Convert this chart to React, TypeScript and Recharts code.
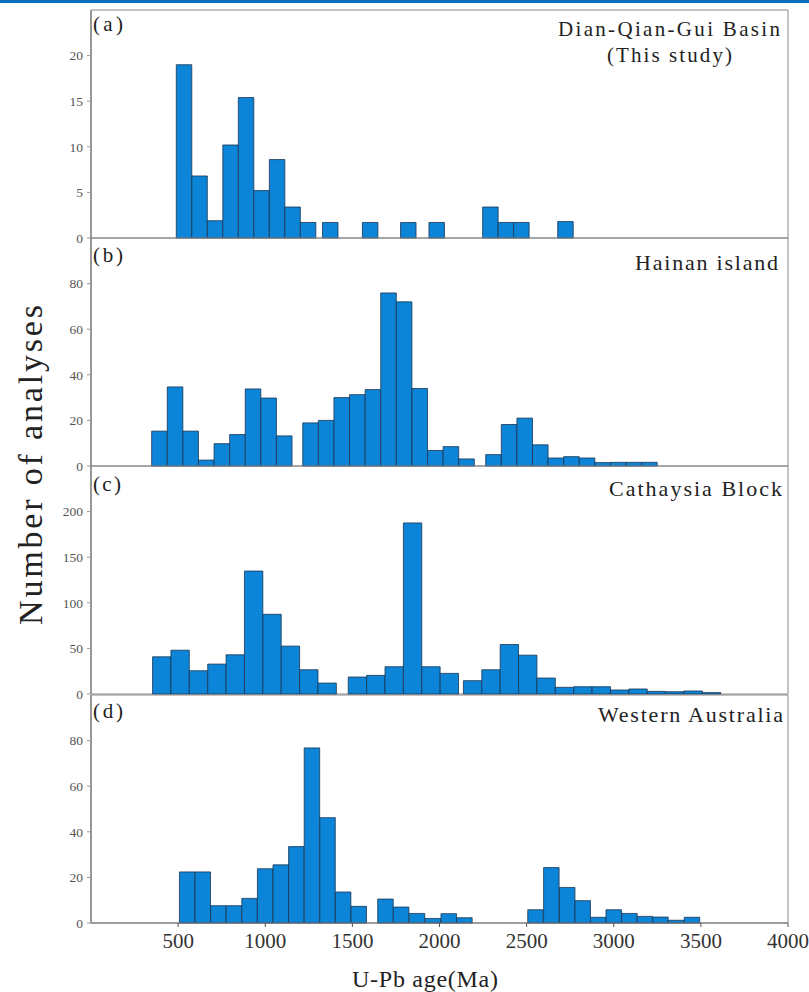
import React from 'react';
import { BarChart, Bar, XAxis, YAxis, ReferenceArea } from 'recharts';

// bin centres (Ma) and counts
const agesA = [534, 623, 712, 801, 890, 979, 1068, 1157, 1246, 1373, 1602, 1821, 1984, 2292, 2381, 2470, 2723];
const countsA = [19, 6.8, 1.9, 10.2, 15.4, 5.2, 8.6, 3.4, 1.7, 1.7, 1.7, 1.7, 1.7, 3.4, 1.7, 1.7, 1.8];

const agesB = [
  393, 482.5, 572, 661.5, 751, 840.5, 930, 1019.5, 1109,
  1260, 1349.5, 1439, 1528.5, 1618, 1707.5, 1797, 1886.5, 1976, 2065.5, 2155,
  2310, 2399.5, 2489, 2578.5, 2668, 2757.5, 2847, 2936.5, 3026, 3115.5, 3205,
];
const countsB = [
  15.3, 34.7, 15.3, 2.6, 9.8, 13.8, 33.8, 29.8, 13.2,
  18.9, 20, 30, 31.3, 33.5, 75.9, 72, 34, 6.8, 8.5, 3.1,
  5, 18.2, 21, 9.3, 3.5, 4.1, 3.5, 1.5, 1.6, 1.6, 1.6,
];

const agesC = [
  406, 511.5, 617, 722.5, 828, 933.5, 1039, 1144.5, 1250, 1355.5,
  1529, 1634.5, 1740, 1845.5, 1951, 2056.5,
  2190, 2295.5, 2401, 2506.5, 2612, 2717.5, 2823, 2928.5, 3034, 3139.5, 3245, 3350.5, 3456, 3561.5,
];
const countsC = [
  40.8, 48, 25.5, 32.8, 43, 134.8, 87.4, 52.5, 26.6, 12,
  18.6, 20.4, 29.9, 187.6, 29.9, 22.6,
  14.6, 26.6, 54.3, 42.6, 17.5, 7.3, 8, 8, 4.4, 5.5, 2.9, 2.5, 3.3, 1.5,
];

const agesD = [
  552, 641.5, 731, 820.5, 910, 999.5, 1089, 1178.5, 1268, 1357.5, 1447, 1536.5,
  1690, 1780, 1871, 1962, 2053, 2143,
  2551, 2642, 2733, 2822, 2911, 3000, 3090, 3179, 3268, 3358, 3449,
];
const countsD = [
  22.4, 22.4, 7.6, 7.6, 10.8, 23.8, 25.5, 33.5, 76.8, 46.2, 13.6, 7.3,
  10.5, 7, 4.2, 2, 4.1, 2.3,
  5.8, 24.3, 15.6, 9.8, 2.5, 5.8, 4.2, 2.9, 2.6, 1.2, 2.5,
];

const xTicks = [500, 1000, 1500, 2000, 2500, 3000, 3500, 4000];
const yTicksA = [0, 5, 10, 15, 20];
const yTicksB = [0, 20, 40, 60, 80];
const yTicksC = [0, 50, 100, 150, 200];
const yTicksD = [0, 20, 40, 60, 80];

const FONT = '"Liberation Serif", "Times New Roman", serif';
const PLOT_LEFT = 91;
const PLOT_RIGHT = 788;
const PLOT_H = 228;
const PX_PER_MA = (PLOT_RIGHT - PLOT_LEFT) / 4000;

const barWidth = (ages: number[]) => {
  let m = Infinity;
  for (let i = 1; i < ages.length; i++) m = Math.min(m, ages[i] - ages[i - 1]);
  return m * PX_PER_MA - 0.02;
};

type PanelProps = {
  ages: number[];
  counts: number[];
  yMax: number;
  yTicks: number[];
  top: number;
  bottomAxis?: boolean;
};

const Panel = ({ ages, counts, yMax, yTicks, top, bottomAxis }: PanelProps) => {
  const rows = ages.map((age, i) => ({ age, n: counts[i] }));
  const axisH = bottomAxis ? 40 : 0;
  const bottomPad = bottomAxis ? 1 : 12;
  return (
    <div style={{ position: 'absolute', left: 0, top: top - 1 }}>
      <BarChart
        width={809}
        height={PLOT_H + 1 + bottomPad + axisH}
        data={rows}
        margin={{ top: 1, right: 809 - PLOT_RIGHT, bottom: bottomPad, left: PLOT_LEFT - 40 }}
      >
        <XAxis
          type="number"
          dataKey="age"
          domain={[0, 4000]}
          ticks={xTicks}
          interval={0}
          allowDataOverflow
          height={axisH}
          axisLine={{ stroke: '#777' }}
          tickLine={{ stroke: '#555' }}
          tickSize={4}
          tickMargin={6}
          tick={bottomAxis ? { fill: '#333', fontSize: 21, fontFamily: FONT } : false}
        />
        <YAxis
          type="number"
          domain={[0, yMax]}
          ticks={yTicks}
          interval={0}
          width={40}
          axisLine={{ stroke: '#888', strokeWidth: 1.5 }}
          tickLine={{ stroke: '#999' }}
          tickSize={4}
          tickMargin={4}
          tick={{ fill: '#555', fontSize: 13.5, fontFamily: FONT }}
        />
        <ReferenceArea x1={0} x2={4000} y1={0} y2={yMax} fill="none" stroke="#888" strokeWidth={1} />
        <Bar
          dataKey="n"
          fill="#0c84d8"
          stroke="#1b3550"
          strokeWidth={0.8}
          barSize={barWidth(ages)}
          isAnimationActive={false}
        />
      </BarChart>
    </div>
  );
};

export default function App() {
  return (
    <div style={{ position: 'absolute', left: 0, top: 0, width: 809, height: 992, background: '#fff', overflow: 'hidden' }}>
      <div style={{ position: 'absolute', left: 0, top: 0, width: 809, height: 3, background: '#0a6ebd' }} />
      <Panel ages={agesA} counts={countsA} yMax={25} yTicks={yTicksA} top={10} />
      <Panel ages={agesB} counts={countsB} yMax={100} yTicks={yTicksB} top={238} />
      <Panel ages={agesC} counts={countsC} yMax={250} yTicks={yTicksC} top={466} />
      <Panel ages={agesD} counts={countsD} yMax={100} yTicks={yTicksD} top={695} bottomAxis />
      <svg width={809} height={992} style={{ position: 'absolute', left: 0, top: 0, pointerEvents: 'none' }}>
        <g fontFamily={FONT} fill="#222">
          <text x={93} y={31} fontSize={21} textLength={30} lengthAdjust="spacing">(a)</text>
          <text x={93} y={262} fontSize={21} textLength={30} lengthAdjust="spacing">(b)</text>
          <text x={93} y={491} fontSize={21} textLength={28} lengthAdjust="spacing">(c)</text>
          <text x={93} y={718} fontSize={21} textLength={30} lengthAdjust="spacing">(d)</text>
          <text x={558} y={36} fontSize={21} textLength={222} lengthAdjust="spacing">Dian-Qian-Gui Basin</text>
          <text x={607} y={62} fontSize={21} textLength={125} lengthAdjust="spacing">(This study)</text>
          <text x={635} y={270} fontSize={22} textLength={143} lengthAdjust="spacing">Hainan island</text>
          <text x={609} y={496} fontSize={22} textLength={173} lengthAdjust="spacing">Cathaysia Block</text>
          <text x={598} y={722} fontSize={22} textLength={185} lengthAdjust="spacing">Western Australia</text>
          <text x={352} y={987} fontSize={24} textLength={146} lengthAdjust="spacing">U-Pb age(Ma)</text>
          <text
            transform="translate(42 465) rotate(-90)"
            textAnchor="middle"
            fontSize={34}
            textLength={320}
            lengthAdjust="spacing"
          >
            Number of analyses
          </text>
        </g>
      </svg>
    </div>
  );
}
